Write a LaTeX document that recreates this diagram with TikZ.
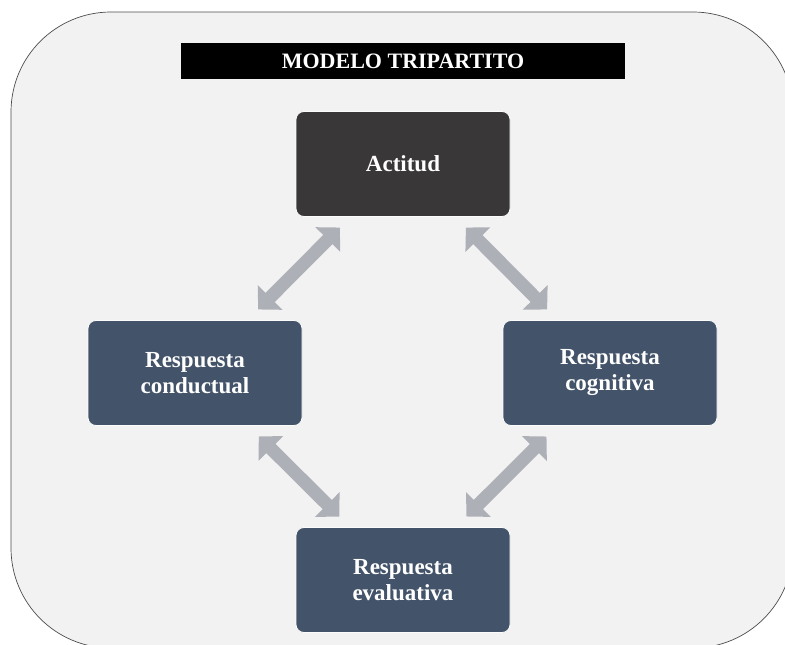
\documentclass[tikz,border=0pt]{standalone}
\usepackage{fontspec}
\setmainfont{Liberation Serif}
\usetikzlibrary{arrows.meta}

\definecolor{fondo}{HTML}{F2F2F2}
\definecolor{oscuro}{HTML}{3A3738}
\definecolor{azul}{HTML}{435369}
\definecolor{gris}{HTML}{ADB0B7}

\begin{document}
\begin{tikzpicture}[x=1pt, y=-1pt,
  caja/.style={rounded corners=8pt, minimum width=214pt, minimum height=105pt,
    draw=white!80!fondo, line width=0.8pt, text=white, align=center,
    font=\bfseries\fontsize{23}{26}\selectfont},
  flecha/.style={gris, line width=13pt,
    {Triangle[width=34pt,length=17pt]}-{Triangle[width=34pt,length=17pt]},
    shorten <=15pt, shorten >=15pt}]
  \useasboundingbox (0,0) rectangle (785,645);

  % fondo redondeado (cortado por el borde)
  \begin{scope}
    \clip (0,0) rectangle (785,645);
    \draw[fill=fondo, draw=black!70, line width=0.7pt, rounded corners=100pt]
      (11,12) rectangle (793,648);
  \end{scope}

  % titulo
  \node [fill=black, minimum width=444pt, minimum height=36pt, text=white,
    font=\bfseries\fontsize{22}{24}\selectfont] (titulo) at (403,61) {MODELO TRIPARTITO};

  % cajas
  \node [caja, fill=oscuro] (act) at (403,164) {Actitud};
  \node [caja, fill=azul] (cond) at (195,373) {Respuesta\\conductual};
  \node [caja, fill=azul] (cogn) at (610,373) {Respuesta\\cognitiva};
  \node [caja, fill=azul] (eval) at (403,580) {Respuesta\\evaluativa};

  % flechas dobles
  \draw [flecha] (act) -- (cond);
  \draw [flecha] (act) -- (cogn);
  \draw [flecha] (cond) -- (eval);
  \draw [flecha] (cogn) -- (eval);
\end{tikzpicture}
\end{document}
